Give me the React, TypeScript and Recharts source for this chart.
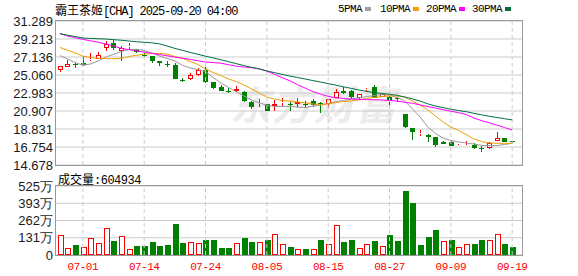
import {
  Bar,
  CartesianGrid,
  ComposedChart,
  Line,
  ReferenceLine,
  XAxis,
  YAxis,
} from "recharts";

const dates = [
  "06-26", "06-27", "06-30", "07-01", "07-02", "07-03", "07-07", "07-08", "07-09", "07-10",
  "07-11", "07-14", "07-15", "07-16", "07-17", "07-18", "07-21", "07-22", "07-23", "07-24",
  "07-25", "07-28", "07-29", "07-30", "07-31", "08-01", "08-04", "08-05", "08-06", "08-07",
  "08-08", "08-11", "08-12", "08-13", "08-14", "08-15", "08-18", "08-19", "08-20", "08-21",
  "08-22", "08-25", "08-26", "08-27", "08-28", "08-29", "09-02", "09-03", "09-04", "09-05",
  "09-08", "09-09", "09-10", "09-11", "09-12", "09-15", "09-16", "09-17", "09-18", "09-19",
];

const opens = [
  25.67, 26.02, 26.33, 26.44, 26.75, 26.94, 28.17, 28.75, 27.86, 28.4,
  28.06, 27.35, 27.25, 26.68, 26.35, 26.21, 24.5, 24.56, 25.06, 25.64,
  24.22, 23.64, 23.27, 23.18, 23.13, 21.98, 21.7, 21.71, 21.48, 21.85,
  21.72, 21.68, 21.75, 22.06, 21.85, 21.68, 22.44, 23.25, 23.25, 22.37,
  23.4, 23.71, 22.56, 22.56, 22.4, 20.56, 18.91, 18.3, 18.14, 17.87,
  17.37, 17.3, 16.97, 17.08, 16.99, 16.63, 16.61, 17.48, 17.76, 17.4,
];
const highs = [
  26.1, 26.75, 26.4, 27.22, 27.6, 27.71, 29.02, 29.13, 28.37, 28.8,
  28.1, 27.56, 27.3, 26.7, 26.64, 26.48, 24.68, 25.25, 25.83, 26.1,
  24.25, 23.9, 23.6, 23.79, 23.25, 22.05, 22.25, 21.75, 22.18, 22.37,
  21.9, 22.37, 22.1, 22.26, 21.9, 22.29, 23.44, 23.71, 23.3, 22.9,
  23.6, 23.9, 22.9, 22.6, 22.56, 20.6, 18.95, 18.72, 18.2, 17.9,
  17.4, 17.56, 17.1, 17.45, 17.2, 16.87, 17.3, 18.52, 17.83, 17.45,
];
const lows = [
  25.37, 25.95, 25.9, 26.13, 26.64, 26.9, 27.86, 27.98, 26.71, 28.05,
  27.63, 27.17, 26.48, 26.06, 26.0, 24.55, 24.22, 24.5, 25.0, 24.17,
  23.41, 23.2, 22.95, 23.15, 22.0, 21.14, 21.33, 20.9, 20.94, 21.5,
  20.95, 21.4, 21.4, 21.4, 20.64, 21.25, 22.4, 22.9, 22.26, 22.3,
  23.1, 22.4, 22.5, 21.4, 22.0, 18.98, 17.56, 18.02, 17.37, 16.79,
  17.05, 16.85, 16.87, 17.05, 16.55, 16.21, 16.55, 17.45, 17.3, 17.2,
];
const closes = [
  26.06, 26.33, 26.22, 26.18, 26.9, 27.33, 28.67, 28.17, 28.17, 28.45,
  27.71, 27.3, 26.64, 26.41, 26.3, 24.6, 24.48, 25.06, 25.64, 24.29,
  23.6, 23.25, 23.25, 23.41, 22.1, 21.33, 21.8, 20.94, 21.71, 21.9,
  21.68, 21.91, 21.7, 21.6, 21.7, 22.29, 23.13, 22.95, 22.49, 22.83,
  23.47, 22.44, 22.83, 22.18, 22.25, 19.1, 18.52, 18.36, 17.87, 16.99,
  17.1, 16.9, 17.02, 17.12, 16.61, 16.6, 17.25, 17.83, 17.37, 17.37,
];

// volume in shares, plus whether the bar is drawn red (up)
const volumes = [
  1520000, 510000, 760000, 580000, 1270000, 890000, 2030000, 1060000, 1420000, 430000,
  660000, 660000, 990000, 660000, 760000, 2360000, 910000, 990000, 910000, 1140000,
  1140000, 530000, 530000, 910000, 1290000, 990000, 990000, 1140000, 1600000, 840000,
  610000, 460000, 460000, 460000, 1140000, 840000, 2280000, 990000, 1140000, 530000,
  840000, 1060000, 680000, 1520000, 1060000, 4860000, 3950000, 760000, 1370000, 1900000,
  1060000, 1140000, 610000, 840000, 840000, 1140000, 1140000, 1600000, 840000, 604934,
];
const volumeUp = [
  1, 1, 0, 1, 1, 1, 1, 0, 1, 1,
  0, 0, 0, 0, 0, 0, 0, 1, 1, 0,
  0, 0, 0, 1, 0, 0, 1, 0, 1, 1,
  0, 1, 0, 1, 0, 1, 1, 0, 0, 1,
  1, 0, 1, 0, 0, 0, 0, 0, 0, 0,
  1, 0, 1, 1, 0, 0, 1, 1, 0, 0,
];

const ma5 = [
  27.31, 26.91, 26.5, 26.18, 26.33, 26.68, 27.14, 27.43, 27.77, 28.0,
  28.02, 27.89, 27.6, 27.25, 26.96, 26.68, 26.18, 25.87, 25.69, 25.46,
  24.77, 24.14, 23.62, 23.13, 22.64, 22.18, 21.83, 21.6, 21.43, 21.43,
  21.45, 21.34, 21.31, 21.45, 21.6, 21.77, 21.98, 22.12, 22.29, 22.43,
  22.56, 22.7, 22.81, 22.75, 22.47, 22.06, 21.14, 20.22, 19.06, 18.31,
  17.79, 17.51, 17.33, 17.22, 17.1, 16.95, 16.9, 16.93, 17.04, 17.18,
];
const ma10 = [
  28.23, 27.94, 27.6, 27.25, 27.08, 26.99, 26.94, 26.94, 26.96, 27.19,
  27.34, 27.46, 27.54, 27.54, 27.48, 27.19, 26.99, 26.62, 26.27, 25.75,
  25.35, 25.0, 24.6, 24.31, 23.91, 23.45, 22.98, 22.52, 22.29, 22.12,
  22.06, 21.95, 21.87, 21.71, 21.66, 21.71, 21.89, 22.0, 22.06, 22.18,
  22.35, 22.47, 22.58, 22.64, 22.64, 22.52, 22.06, 21.6, 21.02, 20.33,
  19.64, 19.06, 18.66, 18.2, 17.68, 17.39, 17.22, 17.18, 17.18, 17.18,
];
const ma20 = [
  29.87, 29.56, 29.36, 29.17, 29.0, 28.84, 28.65, 28.4, 28.14, 27.98,
  27.84, 27.7, 27.56, 27.42, 27.28, 27.12, 27.0, 26.86, 26.71, 26.56,
  26.49, 26.42, 26.25, 26.08, 25.98, 25.9, 25.8, 25.5, 25.15, 24.75,
  24.4, 23.95, 23.55, 23.15, 22.85, 22.6, 22.42, 22.35, 22.29, 22.26,
  22.23, 22.2, 22.18, 22.12, 22.05, 21.91, 21.8, 21.6, 21.42, 21.25,
  21.06, 20.88, 20.72, 20.5, 20.1, 19.8, 19.55, 19.28, 19.0, 18.72,
];
const ma30 = [
  29.82, 29.65, 29.5, 29.33, 29.28, 29.24, 29.21, 29.14, 29.07, 28.98,
  28.9, 28.83, 28.77, 28.65, 28.4, 28.13, 27.9, 27.66, 27.45, 27.23,
  27.03, 26.82, 26.6, 26.37, 26.15, 25.94, 25.75, 25.53, 25.33, 25.12,
  24.94, 24.77, 24.6, 24.42, 24.25, 24.07, 23.88, 23.7, 23.52, 23.33,
  23.17, 23.03, 22.93, 22.84, 22.72, 22.52, 22.3, 22.05, 21.73, 21.48,
  21.3, 21.1, 20.96, 20.83, 20.64, 20.47, 20.3, 20.16, 20.02, 19.88,
];

const priceTicks = [14.678, 16.754, 18.831, 20.907, 22.983, 25.06, 27.136, 29.213, 31.289];
const volumeTicks = [0, 1312500, 2625000, 3937500, 5250000];
const volumeTickLabels = ["0", "131万", "262万", "393万", "525万"];
const dateTicks = ["07-01", "07-14", "07-24", "08-05", "08-15", "08-27", "09-09", "09-19"];

const RED = "#ff0000";
const GREEN = "#008000";
const GRID = "#cccccc";
const BORDER = "#999999";

const data = dates.map((date, i) => ({
  date,
  open: opens[i],
  high: highs[i],
  low: lows[i],
  close: closes[i],
  range: [lows[i], highs[i]],
  vol: volumes[i],
  volUp: volumeUp[i] === 1,
  ma5: ma5[i],
  ma10: ma10[i],
  ma20: ma20[i],
  ma30: ma30[i],
}));

function Candle(props: any) {
  const { x, y, width, height, payload } = props;
  const { open, close, high, low } = payload;
  const span = high - low;
  const k = span > 0 ? height / span : 0;
  const yOf = (v: number) => y + (high - v) * k;
  const mid = Math.round(x + width / 2);
  const cx = mid + 0.5;
  const left = mid - 2;
  const top = Math.round(yOf(Math.max(open, close)));
  const bottom = Math.round(yOf(Math.min(open, close)));
  const hiY = Math.round(yOf(high));
  const loY = Math.round(yOf(low));
  const up = close > open;
  const color = up ? RED : GREEN;
  const bodyH = Math.max(bottom - top, 1);

  if (up) {
    return (
      <g>
        <line x1={cx} x2={cx} y1={hiY} y2={top} stroke={color} />
        <line x1={cx} x2={cx} y1={top + bodyH} y2={loY} stroke={color} />
        <rect x={left + 0.5} y={top + 0.5} width={4} height={Math.max(bodyH - 1, 0)} fill="#fff" stroke={color} />
      </g>
    );
  }
  return (
    <g>
      <line x1={cx} x2={cx} y1={hiY} y2={loY} stroke={color} />
      <rect x={left} y={top} width={5} height={bodyH} fill={color} />
    </g>
  );
}

function VolumeBar(props: any) {
  const { x, y, width, height, payload } = props;
  const mid = Math.round(x + width / 2);
  const left = mid - 2;
  const top = Math.round(y);
  const h = Math.max(Math.round(y + height) - top, 1);
  if (payload.volUp) {
    return <rect x={left + 0.5} y={top + 0.5} width={5} height={h - 1} fill="#fff" stroke={RED} />;
  }
  return <rect x={left} y={top} width={6} height={h} fill={GREEN} />;
}

const axisTick = { fill: "#1a1a1a", fontSize: 13, fontFamily: "Liberation Sans, Arial, sans-serif" };
const mono = "Liberation Mono, DejaVu Sans Mono, monospace";
const cjk = "Noto Sans CJK SC, sans-serif";

function LegendItem({ label, color, left }: { label: string; color: string; left: number }) {
  return (
    <div style={{ position: "absolute", left, top: 2, display: "flex", alignItems: "center", height: 14 }}>
      <span style={{ fontFamily: mono, fontSize: 11, letterSpacing: -0.6, color: "#000" }}>{label}</span>
      <span style={{ display: "inline-block", width: 6, height: 4, background: color, marginLeft: 3 }} />
    </div>
  );
}

export default function App() {
  return (
    <div style={{ position: "absolute", left: 0, top: 0, width: 578, height: 276, background: "#fff", overflow: "hidden" }}>
      <div
        style={{
          position: "absolute",
          left: 230,
          top: 74,
          fontFamily: cjk,
          fontSize: 40,
          fontWeight: 700,
          fontStyle: "italic",
          color: "#ececec",
          letterSpacing: 2,
        }}
      >
        东方财富
      </div>

      <div style={{ position: "absolute", left: 55, top: 1, fontSize: 12, color: "#000", whiteSpace: "nowrap" }}>
        <span style={{ fontFamily: cjk }}>霸王茶姬</span>
        <span style={{ fontFamily: mono, letterSpacing: -1.1 }}>[CHA] 2025-09-20 04:00</span>
      </div>

      <LegendItem label="5PMA" color="#a0a0a0" left={338} />
      <LegendItem label="10PMA" color="#f0a000" left={380} />
      <LegendItem label="20PMA" color="#ff00ff" left={426} />
      <LegendItem label="30PMA" color="#00703c" left={472} />

      <div style={{ position: "absolute", left: 0, top: 0 }}>
        <ComposedChart width={578} height={176} data={data} margin={{ top: 21, right: 56, bottom: 11, left: 0 }}>
          <CartesianGrid stroke={GRID} vertical={false} />
          <XAxis dataKey="date" hide padding={{ left: 0, right: 6 }} />
          <YAxis
            domain={[14.678, 31.289]}
            ticks={priceTicks}
            tickFormatter={(v: number) => v.toFixed(3)}
            tick={axisTick}
            axisLine={false}
            tickLine={false}
            tickSize={1}
            tickMargin={2}
            width={56}
            interval={0}
          />
          {dateTicks.map((d) => (
            <ReferenceLine key={d} x={d} stroke={GRID} strokeDasharray="4 3" />
          ))}
          <Bar dataKey="range" barSize={5} shape={Candle} isAnimationActive={false} />
          <Line dataKey="ma5" stroke="#999999" strokeWidth={1} dot={false} isAnimationActive={false} />
          <Line dataKey="ma10" stroke="#f0a000" strokeWidth={1} dot={false} isAnimationActive={false} />
          <Line dataKey="ma20" stroke="#ff00ff" strokeWidth={1} dot={false} isAnimationActive={false} />
          <Line dataKey="ma30" stroke="#00703c" strokeWidth={1} dot={false} isAnimationActive={false} />
        </ComposedChart>
      </div>

      <div style={{ position: "absolute", left: 58, top: 170, fontSize: 12, color: "#000", whiteSpace: "nowrap" }}>
        <span style={{ fontFamily: cjk }}>成交量</span>
        <span style={{ fontFamily: mono, letterSpacing: -0.5 }}>:604934</span>
      </div>

      <div style={{ position: "absolute", left: 0, top: 170 }}>
        <ComposedChart width={578} height={106} data={data} margin={{ top: 16, right: 56, bottom: 0, left: 0 }}>
          <CartesianGrid stroke={GRID} vertical={false} />
          <XAxis
            dataKey="date"
            ticks={dateTicks}
            interval={0}
            padding={{ left: 0, right: 6 }}
            axisLine={false}
            tickLine={false}
            tickSize={5}
            tickMargin={2}
            height={21}
            tick={{ fill: RED, fontSize: 11, fontFamily: mono, letterSpacing: -0.5 }}
          />
          <YAxis
            domain={[0, 5250000]}
            ticks={volumeTicks}
            tickFormatter={(v: number) => volumeTickLabels[volumeTicks.indexOf(v)] ?? ""}
            tick={axisTick}
            axisLine={false}
            tickLine={false}
            tickSize={1}
            tickMargin={2}
            width={56}
            interval={0}
          />
          {dateTicks.map((d) => (
            <ReferenceLine key={d} x={d} stroke={GRID} strokeDasharray="4 3" />
          ))}
          <Bar dataKey="vol" barSize={5} shape={VolumeBar} isAnimationActive={false} />
        </ComposedChart>
      </div>

      <div style={{ position: "absolute", left: 55, top: 20, width: 468, height: 146, boxSizing: "border-box", border: `1px solid ${BORDER}`, pointerEvents: "none" }} />
      <div style={{ position: "absolute", left: 55, top: 185, width: 468, height: 71, boxSizing: "border-box", border: `1px solid ${BORDER}`, pointerEvents: "none" }} />
    </div>
  );
}
